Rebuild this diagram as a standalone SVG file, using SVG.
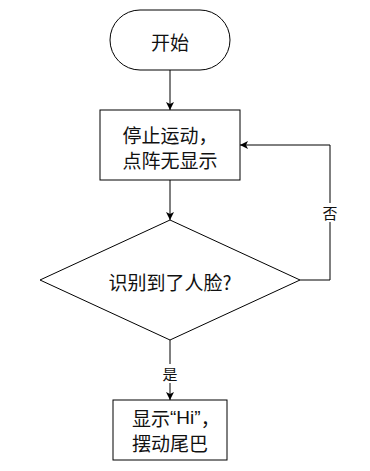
<svg xmlns="http://www.w3.org/2000/svg" width="370" height="471" viewBox="0 0 370 471">
<style>
.shape{fill:#fff;stroke:#000;stroke-width:1}
.t{font-family:"Noto Sans CJK SC","Liberation Sans",sans-serif;font-size:19px;fill:#111;text-anchor:middle;dominant-baseline:central}
.lat{font-family:"Liberation Sans","Noto Sans CJK SC",sans-serif}
.lbl{font-family:"Noto Sans CJK SC","Liberation Sans",sans-serif;font-size:15px;fill:#111;text-anchor:middle;dominant-baseline:central}
.c{fill:none;stroke:#000;stroke-width:1}
</style>
<defs>
<marker id="arr" viewBox="0 0 10 10" refX="10" refY="5" markerWidth="8" markerHeight="8" markerUnits="userSpaceOnUse" orient="auto">
<path d="M0,0 L10,5 L0,10 L2.5,5 Z" fill="#000"/>
</marker>
</defs>
<g id="connectors">
<path class="c" d="M170,70 L170,110" marker-end="url(#arr)"/>
<path class="c" d="M170,180 L170,220" marker-end="url(#arr)"/>
<path class="c" d="M300,280 L330,280 L330,145 L240,145" marker-end="url(#arr)"/>
<path class="c" d="M170,340 L170,400" marker-end="url(#arr)"/>
<rect x="321" y="203" width="18" height="19" fill="#fff"/>
<text class="lbl" x="330" y="212">否</text>
<rect x="161" y="364" width="18" height="19" fill="#fff"/>
<text class="lbl" x="170" y="373">是</text>
</g>
<g id="start">
<rect class="shape" x="110" y="10" width="120" height="60" rx="30" ry="30"/>
<text class="t" x="170" y="41">开始</text>
</g>
<g id="stop">
<rect class="shape" x="100" y="110" width="140" height="70"/>
<text class="t" x="170" y="134">停止运动，</text>
<text class="t" x="170" y="159">点阵无显示</text>
</g>
<g id="decision">
<path class="shape" d="M170,220 L300,280 L170,340 L40,280 Z"/>
<text class="t" x="170" y="281">识别到了人脸?</text>
</g>
<g id="show">
<rect class="shape" x="113" y="400" width="114" height="60"/>
<text class="t" x="132" y="417" style="text-anchor:start">显示<tspan class="lat">“Hi”</tspan>，</text>
<text class="t" x="170" y="442">摆动尾巴</text>
</g>
</svg>
